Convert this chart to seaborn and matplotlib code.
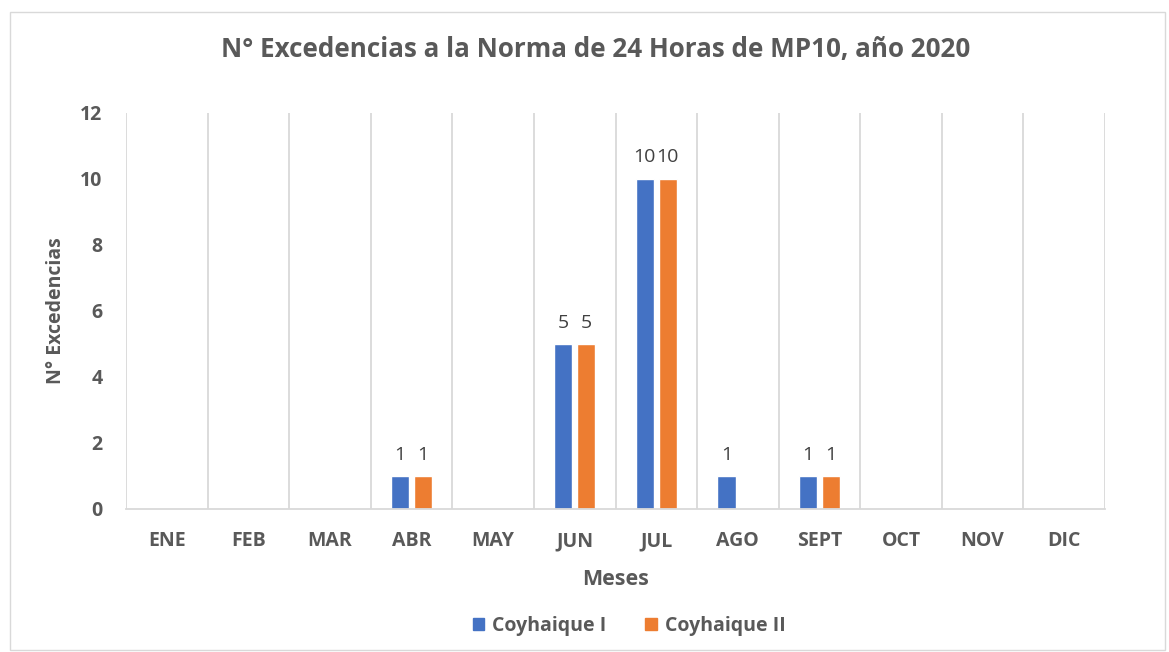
import seaborn as sns
import matplotlib.pyplot as plt
import matplotlib.patches as mpatches
import pandas as pd
import numpy as np

meses = ['ENE', 'FEB', 'MAR', 'ABR', 'MAY', 'JUN', 'JUL', 'AGO', 'SEPT', 'OCT', 'NOV', 'DIC']
coyhaique_1 = [None, None, None, 1, None, 5, 10, 1, 1, None, None, None]
coyhaique_2 = [None, None, None, 1, None, 5, 10, None, 1, None, None, None]
series = ['Coyhaique I', 'Coyhaique II']
colores = ['#4472C4', '#ED7D31']

if __name__ == '__main__':
    df = pd.DataFrame({
        'mes': meses * 2,
        'serie': [series[0]] * 12 + [series[1]] * 12,
        'valor': coyhaique_1 + coyhaique_2,
    })
    df = df.dropna()
    df['mes'] = pd.Categorical(df['mes'], categories=meses)

    sns.set_style('white')
    plt.rcParams['font.family'] = ['Open Sans', 'DejaVu Sans']
    gris = '#595959'

    fig = plt.figure(figsize=(11.69, 6.52), dpi=100)
    ax = fig.add_axes([126 / 1169, 1 - 509 / 652, 979 / 1169, 396 / 652])

    sb = sns.barplot(x='mes', y='valor', hue='serie', data=df, order=meses,
                     hue_order=series, palette=colores, width=0.56, gap=0.2,
                     saturation=1, ax=ax, legend=False)

    for c in sb.containers:
        sb.bar_label(c, fmt='%d', padding=9, fontsize=14, color='#404040')

    ax.set_xlim(-0.5, 11.5)
    ax.set_ylim(0, 12)
    ax.set_yticks(range(0, 13, 2))
    # lineas verticales entre meses, como en Excel
    for x in np.arange(-0.5, 12, 1):
        ax.axvline(x, color='#D9D9D9', lw=1.3, zorder=0)
    for s in ['top', 'right', 'left']:
        ax.spines[s].set_visible(False)
    ax.spines['bottom'].set_color('#D9D9D9')
    ax.spines['bottom'].set_linewidth(1.3)
    ax.tick_params(length=0, labelsize=14, colors=gris)
    ax.tick_params(axis='x', pad=16)
    ax.tick_params(axis='y', pad=17)
    for lbl in ax.get_xticklabels() + ax.get_yticklabels():
        lbl.set_fontweight('bold')

    ax.set_xlabel('Meses', fontsize=15.5, fontweight='bold', color=gris, labelpad=13)
    ax.set_ylabel('N° Excedencias', fontsize=14, fontweight='bold', color=gris, labelpad=10)
    fig.text(596 / 1169, 1 - 50 / 652,
             'N° Excedencias a la Norma de 24 Horas de MP10, año 2020',
             ha='center', va='center', fontsize=18.7, fontweight='bold', color=gris)

    handles = [mpatches.Patch(color=c, label=s) for c, s in zip(colores, series)]
    leg = fig.legend(handles=handles, loc='center', bbox_to_anchor=(629 / 1169, 1 - 626 / 652),
                     ncol=2, frameon=False, handlelength=0.6, handleheight=0.6,
                     handletextpad=0.4, columnspacing=2.0,
                     prop={'size': 14, 'weight': 'bold'})
    for t in leg.get_texts():
        t.set_color(gris)

    fig.add_artist(mpatches.Rectangle((10 / 1169, 2 / 652), 1155 / 1169, 638 / 652,
                                      transform=fig.transFigure, fill=False,
                                      edgecolor='#D9D9D9', lw=1))

    plt.savefig('out.png', dpi=100)
